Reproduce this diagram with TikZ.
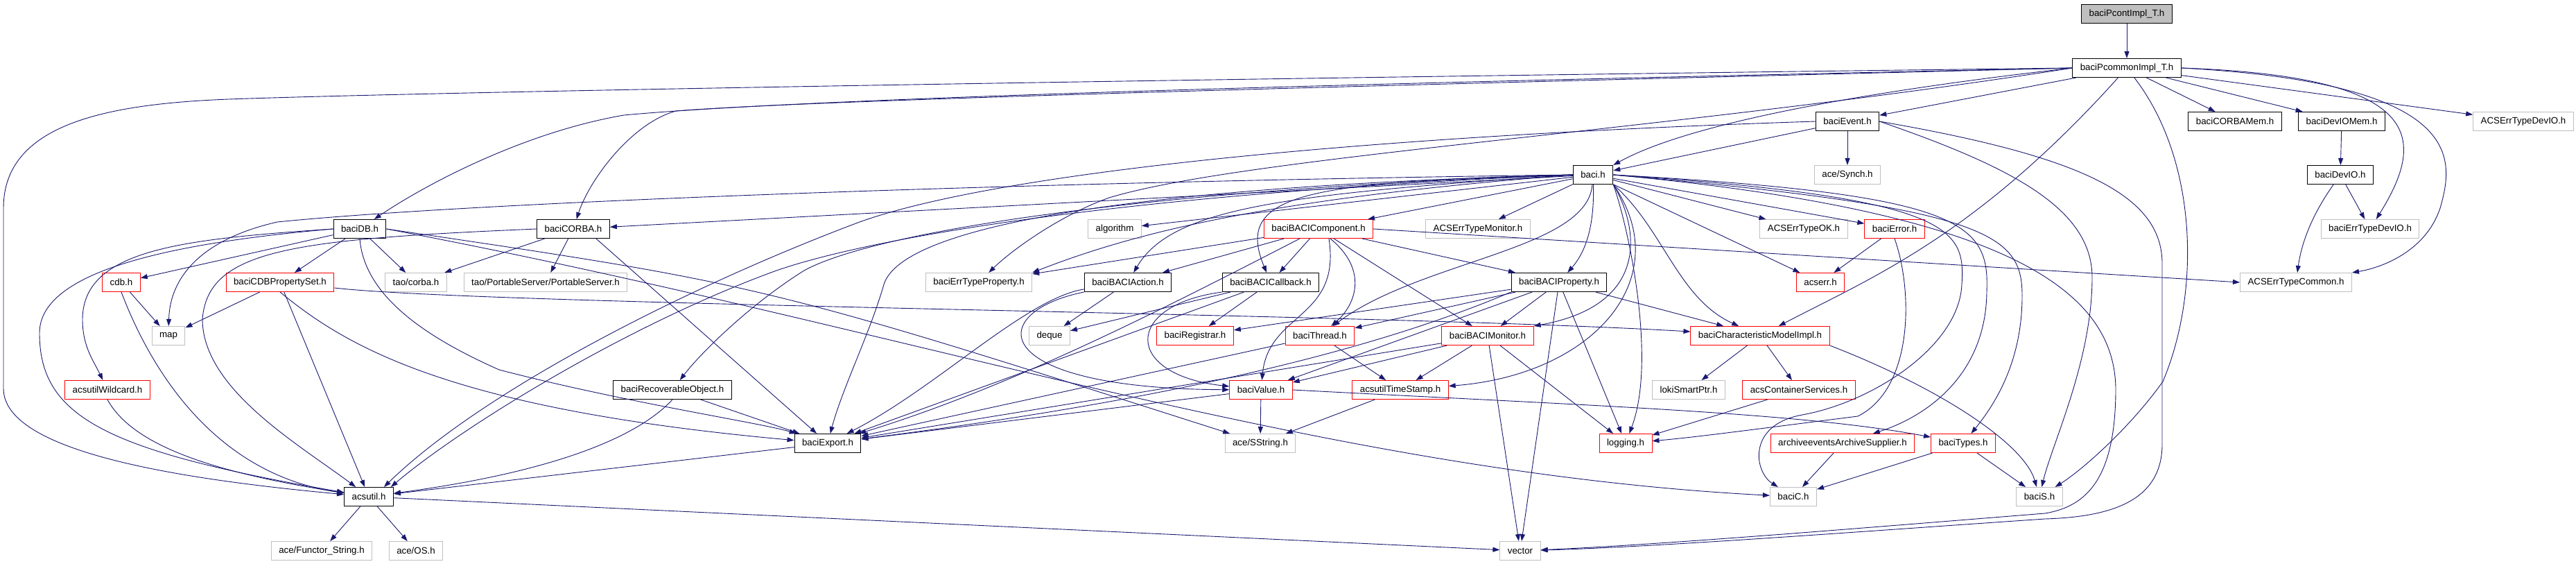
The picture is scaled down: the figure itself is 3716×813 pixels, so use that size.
\documentclass[tikz,border=0pt]{standalone}
\usepackage{fontspec}
\setmainfont{Liberation Sans}
\usetikzlibrary{arrows.meta}
\definecolor{edgeblue}{RGB}{25,25,112}
\definecolor{boxgrey}{RGB}{191,191,191}
\begin{document}
\begin{tikzpicture}[x=1pt, y=-1pt,
        hdr/.style={draw=black, line width=1pt, inner xsep=11pt, inner ysep=0pt, minimum height=27pt, font=\fontsize{13.3}{16}\selectfont},
        hdrred/.style={hdr, draw=red},
        hdrsys/.style={hdr, draw=boxgrey},
        hdrtop/.style={hdr, fill=boxgrey},
        dep/.style={draw=edgeblue, line width=0.9pt, -{Triangle[length=10pt,width=7pt]}}]
                    \useasboundingbox (0,0) rectangle (3716,813);
                    \node[hdrtop] (pcont) at (3068,20) {baciPcontImpl\_T.h};
                    \node[hdr] (pcommon) at (3068,98) {baciPcommonImpl\_T.h};
                    \node[hdr] (event) at (2665,175) {baciEvent.h};
                    \node[hdr] (corbamem) at (3224,175) {baciCORBAMem.h};
                    \node[hdr] (deviomem) at (3378,175) {baciDevIOMem.h};
                    \node[hdrsys] (acsdevio) at (3640,175) {ACSErrTypeDevIO.h};
                    \node[hdr] (baci) at (2298,252) {baci.h};
                    \node[hdrsys] (synch) at (2665,252) {ace/Synch.h};
                    \node[hdr] (devio) at (3376,252) {baciDevIO.h};
                    \node[hdr] (db) at (519,330) {baciDB.h};
                    \node[hdr] (corba) at (827,330) {baciCORBA.h};
                    \node[hdrsys] (algorithm) at (1608,330) {algorithm};
                    \node[hdrred] (component) at (1902,330) {baciBACIComponent.h};
                    \node[hdrsys] (errmonitor) at (2132,330) {ACSErrTypeMonitor.h};
                    \node[hdrsys] (errok) at (2602,330) {ACSErrTypeOK.h};
                    \node[hdrred] (error) at (2733,330) {baciError.h};
                    \node[hdrsys] (errdevio) at (3419,330) {baciErrTypeDevIO.h};
                    \node[hdrred] (cdb) at (175,407) {cdb.h};
                    \node[hdrred] (cdbprop) at (404,407) {baciCDBPropertySet.h};
                    \node[hdrsys] (taocorba) at (600,407) {tao/corba.h};
                    \node[hdrsys] (taops) at (787,407) {tao/PortableServer/PortableServer.h};
                    \node[hdrsys] (errprop) at (1412,407) {baciErrTypeProperty.h};
                    \node[hdr] (action) at (1627,407) {baciBACIAction.h};
                    \node[hdr] (callback) at (1833,407) {baciBACICallback.h};
                    \node[hdr] (property) at (2249,407) {baciBACIProperty.h};
                    \node[hdrred] (acserr) at (2626,407) {acserr.h};
                    \node[hdrsys] (errcommon) at (3312,407) {ACSErrTypeCommon.h};
                    \node[hdrsys] (map) at (243,484) {map};
                    \node[hdrsys] (deque) at (1514,484) {deque};
                    \node[hdrred] (registrar) at (1724,484) {baciRegistrar.h};
                    \node[hdrred] (thread) at (1904,484) {baciThread.h};
                    \node[hdrred] (monitor) at (2146,484) {baciBACIMonitor.h};
                    \node[hdrred] (charmodel) at (2539,484) {baciCharacteristicModelImpl.h};
                    \node[hdrred] (wildcard) at (155,562) {acsutilWildcard.h};
                    \node[hdr] (recoverable) at (970,562) {baciRecoverableObject.h};
                    \node[hdrred] (value) at (1819,562) {baciValue.h};
                    \node[hdrred] (timestamp) at (2020,562) {acsutilTimeStamp.h};
                    \node[hdrsys] (loki) at (2436,562) {lokiSmartPtr.h};
                    \node[hdrred] (services) at (2595,562) {acsContainerServices.h};
                    \node[hdr] (export) at (1194,639) {baciExport.h};
                    \node[hdrsys] (sstring) at (1818,639) {ace/SString.h};
                    \node[hdrred] (logging) at (2345,639) {logging.h};
                    \node[hdrred] (archive) at (2658,639) {archiveeventsArchiveSupplier.h};
                    \node[hdrred] (types) at (2832,639) {baciTypes.h};
                    \node[hdr] (acsutil) at (532,716) {acsutil.h};
                    \node[hdrsys] (bacic) at (2587,716) {baciC.h};
                    \node[hdrsys] (bacis) at (2942,716) {baciS.h};
                    \node[hdrsys] (functor) at (464,794) {ace/Functor\_String.h};
                    \node[hdrsys] (aceos) at (600,794) {ace/OS.h};
                    \node[hdrsys] (vector) at (2193,794) {vector};

                    \draw[dep] (pcont) -- (pcommon);
                    \draw[dep] (pcommon) -- (event);
                    \draw[dep] (pcommon) -- (corbamem);
                    \draw[dep] (pcommon) -- (deviomem);
                    \draw[dep] (pcommon) -- (acsdevio);
                    \draw[dep] (pcommon) .. controls (2850,340) and (2700,400) .. (charmodel);
                    \draw[dep] (pcommon.west) .. controls (2750,125) and (2450,170) .. (baci.north east);
                    \draw[dep] (pcommon.east) .. controls (3500,110) and (3500,200) .. (errdevio);
                    \draw[dep] (pcommon.east) .. controls (3560,120) and (3540,230) .. (3520,300) .. controls (3500,360) and (3440,385) .. (errcommon.north east);
                    \draw[dep] (pcommon) .. controls (3170,230) and (3175,420) .. (3120,550) .. controls (3070,620) and (3000,680) .. (bacis);
                    \draw[dep] (pcommon.west) .. controls (2200,115) and (1200,138) .. (900,166) .. controls (760,190) and (620,262) .. (db);
                    \draw[dep] (pcommon.west) .. controls (2200,118) and (1200,142) .. (975,160) .. controls (910,178) and (850,260) .. (corba);
                    \draw[dep] (pcommon.west) .. controls (2000,110) and (700,130) .. (330,143) .. controls (150,150) and (5,180) .. (5,300) -- (5,560) .. controls (5,650) and (250,690) .. (acsutil);
                    \draw[dep] (pcommon.west) .. controls (2400,190) and (1800,225) .. (1600,285) .. controls (1530,310) and (1460,360) .. (errprop);

                    \draw[dep] (event) -- (synch);
                    \draw[dep] (event) -- (baci);
                    \draw[dep] (event.west) .. controls (2000,195) and (1450,245) .. (1240,320) .. controls (1000,410) and (700,560) .. ([xshift=-14pt]acsutil.north east);
                    \draw[dep] (event.east) .. controls (2900,240) and (3018,300) .. (3018,400) .. controls (3018,520) and (2960,640) .. (bacis);
                    \draw[dep] (event.east) .. controls (3000,225) and (3119,280) .. (3119,380) -- (3119,640) .. controls (3119,720) and (3050,745) .. (2950,748) .. controls (2700,765) and (2400,788) .. (vector);

                    \draw[dep] (deviomem) -- (devio);
                    \draw[dep] (devio) -- (errdevio);
                    \draw[dep] (devio) .. controls (3335,310) and (3320,350) .. (errcommon);

                    \draw[dep] (baci) -- (corba);
                    \draw[dep] (baci) -- (algorithm);
                    \draw[dep] (baci) -- (component);
                    \draw[dep] (baci) -- (errmonitor);
                    \draw[dep] (baci) -- (errok);
                    \draw[dep] (baci) -- (error);
                    \draw[dep] (baci) -- (acserr);
                    \draw[dep] (baci) .. controls (2300,320) and (2290,360) .. (property);
                    \draw[dep] (baci.west) .. controls (1850,280) and (1690,300) .. (action);
                    \draw[dep] (baci.west) .. controls (1880,262) and (1780,280) .. (callback);
                    \draw[dep] (baci.west) .. controls (1850,285) and (1650,330) .. (errprop.north east);
                    \draw[dep] (baci) .. controls (2290,360) and (2050,375) .. (thread);
                    \draw[dep] (baci.south east) .. controls (2365,330) and (2380,440) .. (monitor.north east);
                    \draw[dep] (baci.south east) .. controls (2350,330) and (2390,520) .. (logging);
                    \draw[dep] (baci.south east) .. controls (2420,400) and (2300,540) .. (timestamp);
                    \draw[dep] (baci.south east) .. controls (2400,330) and (2420,430) .. (charmodel);
                    \draw[dep] (baci.east) .. controls (2830,280) and (2870,320) .. (2866,420) .. controls (2865,540) and (2780,600) .. (archive);
                    \draw[dep] (baci.east) .. controls (2880,300) and (2918,340) .. (2917,430) .. controls (2916,520) and (2880,580) .. (types);
                    \draw[dep] (baci.east) .. controls (2820,285) and (2835,330) .. (2830,410) .. controls (2826,500) and (2700,580) .. (2600,598) .. controls (2520,612) and (2530,680) .. (bacic);
                    \draw[dep] (baci.east) .. controls (2900,305) and (3050,420) .. (3052,560) .. controls (3052,690) and (3010,730) .. (2950,740) .. controls (2700,760) and (2400,785) .. (vector);
                    \draw[dep] (baci.west) .. controls (1500,262) and (700,290) .. (400,320) .. controls (290,345) and (245,400) .. (map);
                    \draw[dep] (baci.west) .. controls (1600,270) and (1300,330) .. (1275,410) .. controls (1255,480) and (1215,560) .. (export);
                    \draw[dep] (baci.west) .. controls (1600,275) and (1250,340) .. (1160,390) .. controls (1080,440) and (1010,510) .. (recoverable);
                    \draw[dep] (baci.west) .. controls (1600,280) and (1250,345) .. (1120,390) .. controls (900,470) and (660,620) .. ([xshift=-4pt]acsutil.north east);

                    \draw[dep] (component) -- (action);
                    \draw[dep] (component) -- (callback);
                    \draw[dep] (component) -- (property);
                    \draw[dep] (component) -- (monitor);
                    \draw[dep] (component) -- (errprop);
                    \draw[dep] (component.east) -- (errcommon.west);
                    \draw[dep] (component) .. controls (1975,390) and (1955,440) .. (thread);
                    \draw[dep] ([xshift=15pt]component.south) .. controls (1935,460) and (1830,450) .. (value);
                    \draw[dep] (component) .. controls (1650,460) and (1450,560) .. (export);

                    \draw[dep] (action) -- (deque);
                    \draw[dep] (action.south west) .. controls (1420,450) and (1420,560) .. (value);
                    \draw[dep] (action) .. controls (1480,430) and (1350,560) .. (export);
                    \draw[dep] (callback) -- (deque);
                    \draw[dep] (callback) -- (registrar);
                    \draw[dep] (callback.south west) .. controls (1620,440) and (1620,540) .. (value);
                    \draw[dep] (callback) -- (export);

                    \draw[dep] (property) -- (thread);
                    \draw[dep] (property) -- (monitor);
                    \draw[dep] (property) -- (logging);
                    \draw[dep] (property) -- (vector);
                    \draw[dep] (property) -- (charmodel);
                    \draw[dep] (property) -- (registrar);
                    \draw[dep] (property) -- (value);
                    \draw[dep] (property.south west) .. controls (1900,540) and (1500,600) .. (export);

                    \draw[dep] (monitor) -- (value);
                    \draw[dep] (monitor) -- (timestamp);
                    \draw[dep] (monitor) -- (logging);
                    \draw[dep] (monitor) -- (vector);
                    \draw[dep] (monitor) -- (export);
                    \draw[dep] (thread) -- (timestamp);
                    \draw[dep] (thread) -- (export);
                    \draw[dep] (timestamp) -- (sstring);
                    \draw[dep] (value) -- (sstring);
                    \draw[dep] (value) -- (export);
                    \draw[dep] (value.east) .. controls (2300,585) and (2600,595) .. (types);

                    \draw[dep] (charmodel) -- (loki);
                    \draw[dep] (charmodel) -- (services);
                    \draw[dep] (charmodel.south east) .. controls (2800,560) and (2920,640) .. (bacis);
                    \draw[dep] (services) -- (logging);
                    \draw[dep] (archive) -- (bacic);
                    \draw[dep] (types) -- (bacic);
                    \draw[dep] (types) -- (bacis);
                    \draw[dep] (error) -- (acserr);
                    \draw[dep] (error.south) .. controls (2760,420) and (2760,560) .. (2680,600) .. controls (2560,615) and (2450,630) .. (logging);

                    \draw[dep] (db) -- (cdb);
                    \draw[dep] (db) -- (cdbprop);
                    \draw[dep] (db) -- (taocorba);
                    \draw[dep] (db.west) .. controls (250,350) and (57,390) .. (57,480) .. controls (57,600) and (150,650) .. (acsutil);
                    \draw[dep] (db.west) .. controls (260,345) and (120,360) .. (119,460) .. controls (119,500) and (135,520) .. (wildcard);
                    \draw[dep] (db.south) .. controls (525,420) and (600,480) .. (720,533) .. controls (900,580) and (1100,610) .. (export);
                    \draw[dep] (db.east) .. controls (1100,410) .. (sstring);
                    \draw[dep] (db.east) .. controls (1300,470) and (1900,680) .. (bacic);

                    \draw[dep] (corba) -- (taocorba);
                    \draw[dep] (corba) -- (taops);
                    \draw[dep] ([xshift=-20pt]corba.south east) -- (export);
                    \draw[dep] (corba.west) .. controls (420,345) and (300,360) .. (292,460) .. controls (292,560) and (430,640) .. (acsutil);

                    \draw[dep] (cdb) -- (map);
                    \draw[dep] (cdb.south) .. controls (205,500) and (290,680) .. (acsutil);
                    \draw[dep] (cdbprop) -- (map);
                    \draw[dep] (cdbprop) -- (acsutil);
                    \draw[dep] (cdbprop.south) .. controls (500,500) and (650,590) .. (export);
                    \draw[dep] ([yshift=-8pt]cdbprop.east) .. controls (700,440) and (2000,452) .. (charmodel);
                    \draw[dep] (wildcard.south) .. controls (190,640) and (300,680) .. (acsutil);
                    \draw[dep] (recoverable) -- (export);
                    \draw[dep] (recoverable.south) .. controls (920,630) and (800,680) .. (acsutil);
                    \draw[dep] (export) -- (acsutil);
                    \draw[dep] (acsutil) -- (functor);
                    \draw[dep] (acsutil) -- (aceos);
                    \draw[dep] (acsutil) -- (vector);
\end{tikzpicture}
\end{document}
